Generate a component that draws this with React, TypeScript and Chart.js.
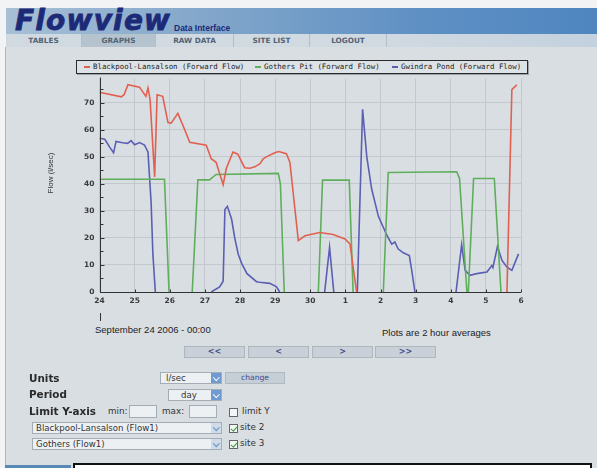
import React, { useEffect, useRef } from 'react';
import { Chart, registerables } from 'chart.js';

Chart.register(...registerables);

// ---- data (days since 24 Sep 2006 00:00) ----
const dayLabels = ['24', '25', '26', '27', '28', '29', '30', '1', '2', '3', '4', '5', '6'];
const yTickValues = [0, 5, 10, 15, 20, 25, 30, 35, 40, 45, 50, 55, 60, 65, 70, 75];

const blackpoolX = [0, 0.62, 0.7, 0.81, 1.14, 1.32, 1.38, 1.44, 1.57, 1.64, 1.8, 1.95, 2.04, 2.23, 2.38, 2.57, 3.04, 3.18, 3.32, 3.52, 3.61, 3.8, 3.94, 4.13, 4.28, 4.42, 4.57, 4.66, 4.75, 4.99, 5.1, 5.32, 5.42, 5.51, 5.66, 5.85, 6.27, 6.65, 6.99, 7.13, 7.32, 9, 11.6, 11.74, 11.88];
const blackpoolY = [73.9, 72.2, 73, 76.7, 75.8, 72.4, 75.5, 71.2, 42.6, 73, 72.4, 62.7, 62.5, 66.1, 61.5, 55.4, 54.3, 49.3, 48, 39.7, 45.7, 51.8, 51, 46, 45.8, 46.3, 47.5, 49.3, 50, 51.5, 52, 51.2, 48, 37.2, 19, 20.8, 22, 21.3, 19.6, 17.8, 0, null, 0, 74.9, 76.7];

const gothersX = [0, 1.85, 1.98, 2.3, 2.64, 2.8, 3.13, 3.32, 5.09, 5.15, 5.26, 5.7, 6.23, 6.35, 7.11, 7.22, 7.6, 8.08, 8.22, 10.17, 10.25, 10.46, 10.5, 10.65, 11.24, 11.43];
const gothersY = [41.7, 41.7, 0, null, 0, 41.5, 41.5, 43.5, 43.9, 40, 0, null, 0, 41.4, 41.4, 0, null, 0, 44.2, 44.5, 42, 0, 0, 42, 42, 0];

const gwindraX = [0, 0.15, 0.29, 0.4, 0.47, 0.66, 0.8, 0.9, 1.0, 1.14, 1.28, 1.38, 1.47, 1.52, 1.59, 2.4, 3.18, 3.42, 3.52, 3.57, 3.64, 3.76, 3.85, 3.95, 4.05, 4.2, 4.47, 4.56, 4.85, 5.04, 5.13, 5.8, 6.41, 6.55, 6.67, 7.0, 7.34, 7.49, 7.61, 7.75, 7.94, 8.18, 8.32, 8.41, 8.5, 8.65, 8.82, 8.89, 8.98, 9.5, 10.15, 10.31, 10.41, 10.55, 10.74, 11.03, 11.17, 11.2, 11.33, 11.46, 11.6, 11.74, 11.93];
const gwindraY = [56.9, 56.5, 53.6, 51.5, 55.7, 55.2, 55, 56, 54.5, 55.3, 54.4, 51.8, 33, 14, 0, null, 0, 1.9, 4, 30.5, 31.7, 27, 20, 14, 10.5, 6.8, 3.8, 3.6, 3.2, 1.9, 0, null, 0, 16.5, 0, null, 0, 67.6, 50, 38, 28, 21, 17.7, 18.5, 16, 14.5, 13.5, 8, 0, null, 0, 17.5, 8, 6.2, 6.8, 7.4, 9.8, 9, 16.8, 11.7, 9.2, 8, 14.1];

const seriesNames = ['Blackpool-Lansalson (Forward Flow)', 'Gothers Pit (Forward Flow)', 'Gwindra Pond (Forward Flow)'];
const seriesColors = ['#e2604f', '#5fae5c', '#5a5fb3'];

const toPoints = (xs: number[], ys: (number | null)[]) => xs.map((x, i) => ({ x, y: ys[i] }));

const PAGE_BG = '#d9dee3';

const innerTicks = {
  id: 'innerTicks',
  afterDatasetsDraw(chart: any) {
    const { ctx, chartArea, scales } = chart;
    const xs = scales.x, ys = scales.y;
    ctx.save();
    ctx.strokeStyle = '#333';
    ctx.lineWidth = 1;
    ctx.beginPath();
    const lx = Math.round(chartArea.left) + 0.5;
    const by = Math.round(chartArea.bottom) + 0.5;
    ctx.moveTo(lx, chartArea.top - 1);
    ctx.lineTo(lx, by);
    ctx.lineTo(chartArea.right, by);
    yTickValues.forEach((v) => {
      const py = Math.round(ys.getPixelForValue(v)) + 0.5;
      ctx.moveTo(lx, py);
      ctx.lineTo(lx + (v % 10 === 0 ? 4 : 3), py);
    });
    dayLabels.forEach((_, d) => {
      const px = Math.round(xs.getPixelForValue(d)) + 0.5;
      ctx.moveTo(px, by);
      ctx.lineTo(px, by - 3);
    });
    ctx.stroke();
    ctx.restore();
  },
};

function FlowChart() {
  const ref = useRef<HTMLCanvasElement | null>(null);
  useEffect(() => {
    if (!ref.current) return;
    const tickFont = { family: 'DejaVu Sans', size: 7.5, weight: 'bold' as const };
    const chart = new Chart(ref.current, {
      type: 'line',
      data: {
        datasets: [
          { label: seriesNames[0], data: toPoints(blackpoolX, blackpoolY) },
          { label: seriesNames[1], data: toPoints(gothersX, gothersY) },
          { label: seriesNames[2], data: toPoints(gwindraX, gwindraY) },
        ].map((d, i) => ({
          ...d,
          borderColor: seriesColors[i],
          backgroundColor: seriesColors[i],
          borderWidth: 1.6,
          pointRadius: 0,
          tension: 0,
          spanGaps: false,
        })),
      },
      plugins: [innerTicks],
      options: {
        animation: false,
        responsive: false,
        maintainAspectRatio: false,
        layout: { padding: { top: 6, right: 10, bottom: 0, left: 0 } },
        plugins: { legend: { display: false }, tooltip: { enabled: false } },
        scales: {
          x: {
            type: 'linear',
            min: 0,
            max: 12,
            afterBuildTicks: (s: any) => {
              s.ticks = dayLabels.map((_, i) => ({ value: i }));
            },
            afterFit: (s: any) => {
              s.height = 18;
            },
            ticks: {
              callback: (v: any) => dayLabels[Math.round(Number(v))] ?? '',
              font: tickFont,
              color: '#3a3a3a',
              padding: 5,
              maxRotation: 0,
              autoSkip: false,
            },
            grid: { color: '#c2c8ce', drawTicks: false },
            border: { display: false },
          },
          y: {
            type: 'linear',
            min: 0,
            max: 79,
            afterBuildTicks: (s: any) => {
              s.ticks = yTickValues.map((v) => ({ value: v }));
            },
            afterFit: (s: any) => {
              s.width = 69.5;
            },
            ticks: {
              callback: (v: any) => (Number(v) % 10 === 0 ? String(v) : ''),
              font: tickFont,
              color: '#3a3a3a',
              padding: 5,
            },
            grid: {
              color: (c: any) => (c.tick && c.tick.value % 10 === 0 && c.tick.value !== 0 ? '#c2c8ce' : 'rgba(0,0,0,0)'),
              drawTicks: false,
            },
            border: { display: false },
          },
        },
      },
    });
    return () => chart.destroy();
  }, []);
  return (
    <canvas
      ref={ref}
      width={501}
      height={241}
      style={{ position: 'absolute', left: 30, top: 69, width: 501, height: 241 }}
    />
  );
}

const abs = (s: React.CSSProperties): React.CSSProperties => ({ position: 'absolute', ...s });

function Chevron({ color }: { color: string }) {
  return (
    <div
      style={abs({
        left: 2.5,
        top: 2,
        width: 3.5,
        height: 3.5,
        borderRight: `1.5px solid ${color}`,
        borderBottom: `1.5px solid ${color}`,
        transform: 'rotate(45deg)',
      })}
    />
  );
}

function Select({ left, top, width, text, textLeft, boxArrow }: { left: number; top: number; width: number; text: string; textLeft?: number; boxArrow?: boolean }) {
  return (
    <div
      style={abs({
        left,
        top,
        width,
        height: 12,
        background: '#edf0f3',
        border: '1px solid #a4adb6',
        boxSizing: 'border-box',
        fontFamily: 'DejaVu Sans',
        fontSize: 8.6,
        color: '#333',
        lineHeight: '10px',
      })}
    >
      <span style={abs({ left: textLeft ?? 3, top: 0, whiteSpace: 'nowrap' })}>{text}</span>
      <div style={abs({ right: 0, top: 0, width: 10, height: 10, background: boxArrow ? '#6f9bd2' : '#cfdbe8' })}>
        <Chevron color={boxArrow ? '#fff' : '#5b86c4'} />
      </div>
    </div>
  );
}

function CheckBox({ left, top, checked }: { left: number; top: number; checked?: boolean }) {
  return (
    <div style={abs({ left, top, width: 9, height: 9, border: '1px solid #666', background: '#f4f5f6', boxSizing: 'border-box' })}>
      {checked && (
        <div
          style={abs({
            left: 2,
            top: 0,
            width: 2.5,
            height: 5,
            borderRight: '1.5px solid #3e9a3a',
            borderBottom: '1.5px solid #3e9a3a',
            transform: 'rotate(40deg)',
          })}
        />
      )}
    </div>
  );
}

function NavButton({ left, text }: { left: number; text: string }) {
  return (
    <div
      style={abs({
        left,
        top: 346,
        width: 61,
        height: 12,
        background: '#c9d0d7',
        border: '1px solid #aeb6be',
        boxSizing: 'border-box',
        textAlign: 'center',
        fontFamily: 'DejaVu Sans',
        fontWeight: 'bold',
        fontSize: 8,
        lineHeight: '10px',
        color: '#3d4a8c',
      })}
    >
      {text}
    </div>
  );
}

const tabs = [
  { text: 'TABLES', left: 6, width: 76 },
  { text: 'GRAPHS', left: 82, width: 74 },
  { text: 'RAW DATA', left: 156, width: 78 },
  { text: 'SITE LIST', left: 234, width: 76 },
  { text: 'LOGOUT', left: 310, width: 77 },
];

export default function App() {
  useEffect(() => {
    document.body.style.margin = '0';
  }, []);
  const label: React.CSSProperties = { fontFamily: 'DejaVu Sans', fontWeight: 'bold', fontSize: 10.4, color: '#2a2a2a', whiteSpace: 'nowrap' };
  const small: React.CSSProperties = { fontFamily: 'DejaVu Sans', fontSize: 8.8, color: '#333', whiteSpace: 'nowrap' };
  return (
    <div style={{ position: 'fixed', left: 0, top: 0, width: 597, height: 468, overflow: 'hidden', background: '#f1f3f5' }}>
      {/* banner */}
      <div style={abs({ left: 6, top: 8, width: 591, height: 26, background: 'linear-gradient(90deg, #a7c0d6 0%, #86a9cb 30%, #5f90c4 70%, #4f86c0 100%)' })} />
      <div
        style={abs({
          left: 15,
          top: 4,
          fontFamily: 'DejaVu Sans',
          fontWeight: 'bold',
          fontStyle: 'italic',
          fontSize: 28,
          letterSpacing: 1.2,
          color: '#1c2a78',
          WebkitTextStroke: '0.8px #1c2a78',
          whiteSpace: 'nowrap',
        })}
      >
        Flowview
      </div>
      <div style={abs({ left: 174, top: 23, fontFamily: 'Liberation Sans', fontWeight: 'bold', fontSize: 8.5, color: '#1c2a78', whiteSpace: 'nowrap' })}>Data Interface</div>
      {/* nav bar */}
      <div style={abs({ left: 6, top: 34, width: 591, height: 13, background: 'linear-gradient(90deg, #d2dae1 0%, #d2dae1 60%, #c3d1de 100%)' })} />
      {tabs.map((t) => (
        <div
          key={t.text}
          style={abs({
            left: t.left,
            top: 34,
            width: t.width,
            height: 13,
            background: t.text === 'GRAPHS' ? '#b5c3cf' : '#d2dae1',
            borderRight: '1px solid #b3bdc7',
            boxSizing: 'border-box',
            textAlign: 'center',
            fontFamily: 'DejaVu Sans',
            fontWeight: 'bold',
            fontSize: 7.3,
            lineHeight: '13px',
            color: '#536375',
          })}
        >
          {t.text}
        </div>
      ))}
      {/* body */}
      <div style={abs({ left: 5, top: 47, width: 592, height: 421, background: PAGE_BG, borderLeft: '1px solid #aab5c0' })} />

      {/* legend */}
      <div
        style={abs({
          left: 76,
          top: 60,
          width: 452,
          height: 14,
          border: '1px solid #2a2a2a',
          boxSizing: 'border-box',
          background: '#dde2e6',
          boxShadow: '1px 1px 0 #9aa2aa',
        })}
      >
        {[
          { left: 7, text: seriesNames[0] },
          { left: 178, text: seriesNames[1] },
          { left: 315, text: seriesNames[2] },
        ].map((it, i) => (
          <div key={i} style={abs({ left: it.left, top: 0, height: 12, whiteSpace: 'nowrap' })}>
            <div style={abs({ left: 0, top: 5, width: 6, height: 2, background: seriesColors[i] })} />
            <span style={abs({ left: 9, top: 0, fontFamily: 'DejaVu Sans Mono', fontSize: 7.4, lineHeight: '12px', color: '#222' })}>{it.text}</span>
          </div>
        ))}
      </div>

      <FlowChart />

      {/* axis title */}
      <div
        style={abs({
          left: 50,
          top: 173,
          transform: 'translate(-50%, -50%) rotate(-90deg)',
          fontFamily: 'Liberation Sans',
          fontSize: 8,
          color: '#333',
          whiteSpace: 'nowrap',
        })}
      >
        Flow (l/sec)
      </div>

      <div style={abs({ left: 99.5, top: 313, width: 1, height: 8, background: '#333' })} />
      <div style={abs({ left: 95, top: 324, fontFamily: 'Liberation Sans', fontSize: 9.5, color: '#222', whiteSpace: 'nowrap' })}>September 24 2006 - 00:00</div>
      <div style={abs({ left: 382, top: 327, fontFamily: 'Liberation Sans', fontSize: 9.5, color: '#222', whiteSpace: 'nowrap' })}>Plots are 2 hour averages</div>

      <NavButton left={184} text="<<" />
      <NavButton left={248} text="<" />
      <NavButton left={312} text=">" />
      <NavButton left={375} text=">>" />

      {/* controls */}
      <div style={abs({ left: 29, top: 372, ...label })}>Units</div>
      <Select left={160} top={372} width={62} text="l/sec" textLeft={5} boxArrow />
      <div
        style={abs({
          left: 225,
          top: 372,
          width: 60,
          height: 12,
          background: '#c6ced6',
          border: '1px solid #b0b8c0',
          boxSizing: 'border-box',
          textAlign: 'center',
          fontFamily: 'DejaVu Sans',
          fontSize: 7.6,
          lineHeight: '10px',
          color: '#3a4a98',
        })}
      >
        change
      </div>

      <div style={abs({ left: 29, top: 388, ...label })}>Period</div>
      <Select left={168} top={389} width={54} text="day" textLeft={12} boxArrow />

      <div style={abs({ left: 29, top: 405, ...label })}>Limit Y-axis</div>
      <div style={abs({ left: 108, top: 406, ...small })}>min:</div>
      <div style={abs({ left: 129, top: 405, width: 28, height: 13, background: '#edf0f3', border: '1px solid #a4adb6', boxSizing: 'border-box' })} />
      <div style={abs({ left: 162, top: 406, ...small })}>max:</div>
      <div style={abs({ left: 189, top: 405, width: 28, height: 13, background: '#edf0f3', border: '1px solid #a4adb6', boxSizing: 'border-box' })} />
      <CheckBox left={229} top={408} />
      <div style={abs({ left: 242, top: 406, ...small })}>limit Y</div>

      <Select left={32} top={422} width={190} text="Blackpool-Lansalson (Flow1)" />
      <CheckBox left={229} top={424} checked />
      <div style={abs({ left: 240, top: 422, ...small })}>site 2</div>

      <Select left={32} top={438} width={190} text="Gothers (Flow1)" />
      <CheckBox left={229} top={440} checked />
      <div style={abs({ left: 240, top: 438, ...small })}>site 3</div>

      {/* bottom */}
      <div style={abs({ left: 5, top: 465, width: 66, height: 3, background: '#5a88b6' })} />
      <div style={abs({ left: 73, top: 463, width: 519, height: 10, background: '#fff', borderTop: '2px solid #111', borderLeft: '2px solid #111', borderRight: '2px solid #111', boxSizing: 'border-box' })} />
    </div>
  );
}
